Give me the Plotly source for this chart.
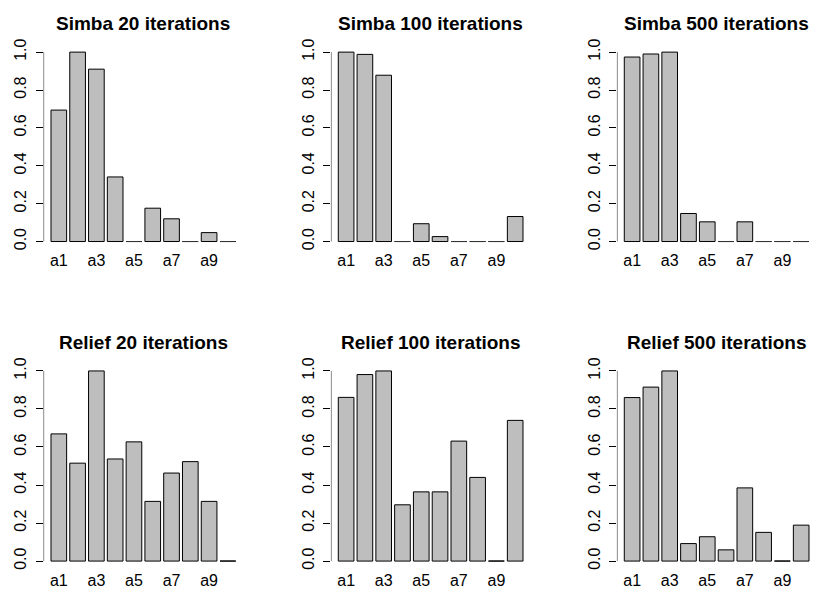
import numpy as np
import plotly.graph_objects as go

# attribute names on the x axis
categories = ["a1", "a2", "a3", "a4", "a5", "a6", "a7", "a8", "a9", "a10"]

# normalised importance scores per method / iteration count
simba_20 = [0.694, 1.0, 0.91, 0.341, 0.0, 0.176, 0.12, 0.0, 0.047, 0.0]
simba_100 = [1.0, 0.988, 0.878, 0.0, 0.094, 0.026, 0.0, 0.0, 0.0, 0.132]
simba_500 = [0.974, 0.99, 1.0, 0.148, 0.104, 0.0, 0.104, 0.0, 0.0, 0.0]
relief_20 = [0.669, 0.515, 1.0, 0.537, 0.627, 0.314, 0.463, 0.523, 0.314, 0.0]
relief_100 = [0.861, 0.981, 1.0, 0.296, 0.364, 0.364, 0.631, 0.44, 0.0, 0.74]
relief_500 = [0.86, 0.915, 1.0, 0.092, 0.128, 0.059, 0.385, 0.151, 0.0, 0.189]

titles = [
    "Simba 20 iterations", "Simba 100 iterations", "Simba 500 iterations",
    "Relief 20 iterations", "Relief 100 iterations", "Relief 500 iterations",
]
series = [simba_20, simba_100, simba_500, relief_20, relief_100, relief_500]
y_ticks = [0.0, 0.2, 0.4, 0.6, 0.8, 1.0]

W, H = 814, 594
FONT = "Liberation Sans, Arial, sans-serif"
BAR_FILL = "#BEBEBE"
TICK_SIZE = 16

# base-graphics style geometry: bar width 1, spacing 0.2 -> in index units
n = len(categories)
idx = np.arange(n)
bar_w = 1 / 1.2
left_edge = -bar_w / 2
right_edge = (n - 1) + bar_w / 2
pad = 0.04 * (right_edge - left_edge)
x_min, x_max = left_edge - pad, right_edge + pad

# plot region in pixels
col_left = [43.6, 330.9, 616.9]
region_w = 199.5
px_per_unit = region_w / (x_max - x_min)
row_top = [39.0, 361.6]
row_bot = [246.0, 569.4]

fig = go.Figure()
layout = dict(
    width=W, height=H,
    margin=dict(l=0, r=0, t=0, b=0),
    paper_bgcolor="white", plot_bgcolor="white",
    showlegend=False,
    font=dict(family=FONT, size=TICK_SIZE, color="black"),
    annotations=[], shapes=[],
)

for k, (vals, title) in enumerate(zip(series, titles)):
    r, c = divmod(k, 3)
    ax = "" if k == 0 else str(k + 1)
    xa, ya = "x" + ax, "y" + ax

    x_left_px = col_left[c]
    x_right_px = min(x_left_px + region_w, W)
    xr_max = x_min + (x_right_px - x_left_px) / px_per_unit

    xdom = [x_left_px / W, x_right_px / W]
    ydom = [1 - row_bot[r] / H, 1 - row_top[r] / H]

    vals = np.asarray(vals, dtype=float)
    fig.add_trace(go.Bar(
        x=idx, y=vals, width=bar_w,
        marker=dict(color=BAR_FILL, line=dict(color="black", width=1)),
        xaxis=xa, yaxis=ya, hoverinfo="skip",
    ))

    # zero-valued bars collapse to their outline at the baseline
    zx, zy = [], []
    for i in idx[vals == 0]:
        zx += [i - bar_w / 2, i + bar_w / 2, None]
        zy += [0, 0, None]
    if zx:
        fig.add_trace(go.Scatter(
            x=zx, y=zy, mode="lines",
            line=dict(color="#333333", width=1),
            xaxis=xa, yaxis=ya, hoverinfo="skip",
        ))

    layout["xaxis" + ax] = dict(
        domain=xdom, range=[x_min, xr_max], anchor=ya,
        showline=False, showgrid=False, zeroline=False, ticks="",
        tickmode="array", tickvals=list(idx[::2]),
        ticktext=categories[::2], tickfont=dict(size=TICK_SIZE),
        ticklabelstandoff=0,
    )
    layout["yaxis" + ax] = dict(
        domain=ydom, range=[-0.04, 1.04], anchor=xa,
        showline=False, showgrid=False, zeroline=False,
        ticks="outside", ticklen=7, tickwidth=1, tickcolor="black",
        tickmode="array", tickvals=y_ticks,
        ticktext=[f"{v:.1f}" for v in y_ticks],
        tickangle=-90, tickfont=dict(size=TICK_SIZE),
        ticklabelstandoff=3,
    )

    # y axis line only spans the tick range
    layout["shapes"].append(dict(
        type="line", xref=xa, yref=ya,
        x0=x_min, x1=x_min, y0=y_ticks[0], y1=y_ticks[-1],
        line=dict(color="black", width=1),
    ))

    layout["annotations"].append(dict(
        text=f"<b>{title}</b>", xref="paper", yref="paper",
        x=(x_left_px + region_w / 2) / W, y=1 - (row_top[r] - 21) / H,
        xanchor="center", yanchor="middle", showarrow=False,
        font=dict(family=FONT, size=19, color="black"),
    ))

fig.update_layout(**layout)
fig.write_html("out.html")
